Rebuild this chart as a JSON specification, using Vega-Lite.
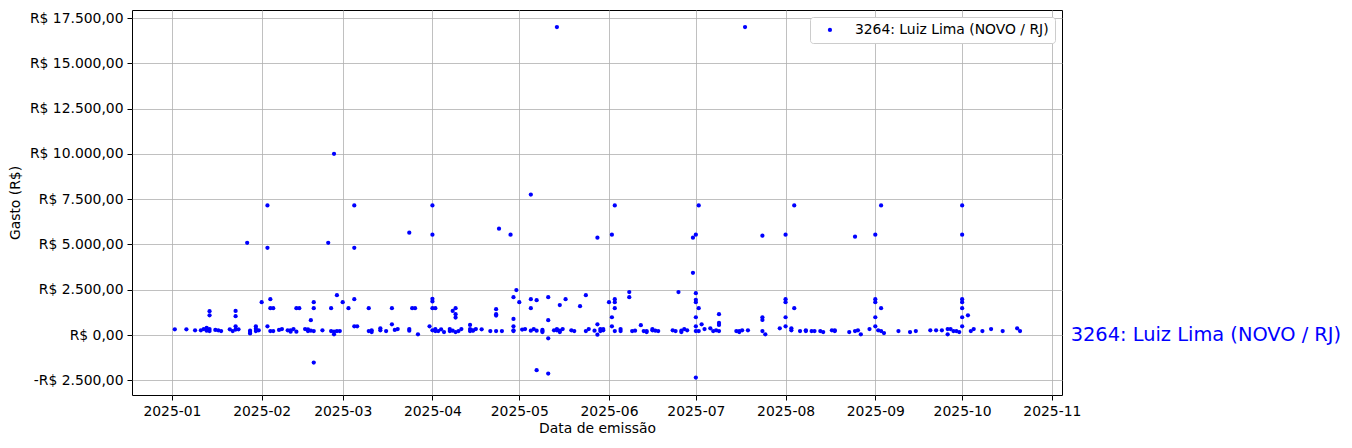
{
  "$schema": "https://vega.github.io/schema/vega-lite/v6.json",
  "width": 930,
  "height": 385,
  "autosize": {"type": "none"},
  "padding": {"left": 132, "top": 10, "right": 290, "bottom": 53},
  "background": "white",
  "data": {"values": [
    {"data":"2025-01-02","gasto":315},{"data":"2025-01-06","gasto":315},{"data":"2025-01-09","gasto":260},{"data":"2025-01-11","gasto":260},
    {"data":"2025-01-12","gasto":330},{"data":"2025-01-13","gasto":400},{"data":"2025-01-13","gasto":240},{"data":"2025-01-14","gasto":330},
    {"data":"2025-01-14","gasto":220},{"data":"2025-01-14","gasto":1315},{"data":"2025-01-14","gasto":1090},{"data":"2025-01-16","gasto":280},
    {"data":"2025-01-17","gasto":260},{"data":"2025-01-18","gasto":220},{"data":"2025-01-21","gasto":315},{"data":"2025-01-22","gasto":220},
    {"data":"2025-01-23","gasto":1330},{"data":"2025-01-23","gasto":1040},{"data":"2025-01-23","gasto":480},{"data":"2025-01-23","gasto":300},
    {"data":"2025-01-24","gasto":315},{"data":"2025-01-27","gasto":5090},{"data":"2025-01-28","gasto":165},{"data":"2025-01-28","gasto":90},
    {"data":"2025-01-28","gasto":240},{"data":"2025-01-30","gasto":480},{"data":"2025-01-30","gasto":350},{"data":"2025-01-30","gasto":220},
    {"data":"2025-01-31","gasto":260},
    {"data":"2025-02-01","gasto":1815},{"data":"2025-02-03","gasto":7150},{"data":"2025-02-03","gasto":4815},{"data":"2025-02-03","gasto":480},
    {"data":"2025-02-04","gasto":1980},{"data":"2025-02-04","gasto":1480},{"data":"2025-02-05","gasto":1480},{"data":"2025-02-04","gasto":220},
    {"data":"2025-02-05","gasto":220},{"data":"2025-02-07","gasto":280},{"data":"2025-02-08","gasto":330},{"data":"2025-02-10","gasto":260},
    {"data":"2025-02-11","gasto":185},{"data":"2025-02-11","gasto":260},{"data":"2025-02-12","gasto":330},{"data":"2025-02-13","gasto":185},
    {"data":"2025-02-13","gasto":1480},{"data":"2025-02-14","gasto":1480},{"data":"2025-02-16","gasto":330},{"data":"2025-02-17","gasto":315},
    {"data":"2025-02-17","gasto":220},{"data":"2025-02-18","gasto":240},{"data":"2025-02-19","gasto":220},{"data":"2025-02-18","gasto":815},
    {"data":"2025-02-19","gasto":1815},{"data":"2025-02-19","gasto":1480},{"data":"2025-02-19","gasto":-1520},{"data":"2025-02-22","gasto":260},
    {"data":"2025-02-24","gasto":5090},{"data":"2025-02-25","gasto":1480},{"data":"2025-02-25","gasto":220},{"data":"2025-02-26","gasto":40},
    {"data":"2025-02-26","gasto":185},{"data":"2025-02-27","gasto":220},{"data":"2025-02-28","gasto":220},{"data":"2025-02-27","gasto":2200},
    {"data":"2025-02-26","gasto":10000},
    {"data":"2025-03-01","gasto":1815},{"data":"2025-03-03","gasto":1480},{"data":"2025-03-05","gasto":7150},{"data":"2025-03-05","gasto":4815},
    {"data":"2025-03-05","gasto":1980},{"data":"2025-03-05","gasto":480},{"data":"2025-03-06","gasto":480},{"data":"2025-03-10","gasto":220},
    {"data":"2025-03-11","gasto":260},{"data":"2025-03-11","gasto":165},{"data":"2025-03-10","gasto":1480},{"data":"2025-03-14","gasto":370},
    {"data":"2025-03-14","gasto":260},{"data":"2025-03-16","gasto":220},{"data":"2025-03-18","gasto":1480},{"data":"2025-03-18","gasto":590},
    {"data":"2025-03-19","gasto":280},{"data":"2025-03-20","gasto":330},{"data":"2025-03-24","gasto":5650},{"data":"2025-03-24","gasto":330},
    {"data":"2025-03-24","gasto":240},{"data":"2025-03-25","gasto":1480},{"data":"2025-03-26","gasto":1480},{"data":"2025-03-27","gasto":40},
    {"data":"2025-03-31","gasto":480},
    {"data":"2025-04-01","gasto":7150},{"data":"2025-04-01","gasto":5540},{"data":"2025-04-01","gasto":2000},{"data":"2025-04-01","gasto":1850},
    {"data":"2025-04-01","gasto":1480},{"data":"2025-04-02","gasto":1480},{"data":"2025-04-01","gasto":260},{"data":"2025-04-02","gasto":330},
    {"data":"2025-04-02","gasto":220},{"data":"2025-04-03","gasto":220},{"data":"2025-04-04","gasto":315},{"data":"2025-04-05","gasto":165},
    {"data":"2025-04-07","gasto":330},{"data":"2025-04-07","gasto":220},{"data":"2025-04-08","gasto":240},{"data":"2025-04-09","gasto":165},
    {"data":"2025-04-10","gasto":220},{"data":"2025-04-11","gasto":330},{"data":"2025-04-08","gasto":1330},{"data":"2025-04-09","gasto":1480},
    {"data":"2025-04-09","gasto":1150},{"data":"2025-04-09","gasto":960},{"data":"2025-04-14","gasto":555},{"data":"2025-04-14","gasto":330},
    {"data":"2025-04-14","gasto":220},{"data":"2025-04-15","gasto":240},{"data":"2025-04-15","gasto":260},{"data":"2025-04-16","gasto":330},
    {"data":"2025-04-18","gasto":315},{"data":"2025-04-21","gasto":220},{"data":"2025-04-23","gasto":220},{"data":"2025-04-25","gasto":220},
    {"data":"2025-04-23","gasto":1425},{"data":"2025-04-23","gasto":1150},{"data":"2025-04-23","gasto":1075},{"data":"2025-04-24","gasto":5870},
    {"data":"2025-04-28","gasto":5540},{"data":"2025-04-29","gasto":2090},{"data":"2025-04-29","gasto":260},{"data":"2025-04-29","gasto":220},
    {"data":"2025-04-29","gasto":480},{"data":"2025-04-29","gasto":890},{"data":"2025-04-30","gasto":2480},
    {"data":"2025-05-01","gasto":1815},{"data":"2025-05-02","gasto":300},{"data":"2025-05-03","gasto":330},{"data":"2025-05-05","gasto":240},
    {"data":"2025-05-05","gasto":1980},{"data":"2025-05-05","gasto":1480},{"data":"2025-05-05","gasto":7750},{"data":"2025-05-06","gasto":330},
    {"data":"2025-05-07","gasto":240},{"data":"2025-05-09","gasto":280},{"data":"2025-05-09","gasto":165},{"data":"2025-05-09","gasto":220},
    {"data":"2025-05-07","gasto":1925},{"data":"2025-05-07","gasto":-1945},{"data":"2025-05-11","gasto":-2130},{"data":"2025-05-11","gasto":2090},
    {"data":"2025-05-11","gasto":815},{"data":"2025-05-11","gasto":-185},{"data":"2025-05-13","gasto":260},{"data":"2025-05-14","gasto":260},
    {"data":"2025-05-14","gasto":330},{"data":"2025-05-15","gasto":165},{"data":"2025-05-15","gasto":240},{"data":"2025-05-16","gasto":330},
    {"data":"2025-05-15","gasto":1650},{"data":"2025-05-17","gasto":1980},{"data":"2025-05-19","gasto":260},{"data":"2025-05-20","gasto":220},
    {"data":"2025-05-22","gasto":1590},{"data":"2025-05-24","gasto":220},{"data":"2025-05-25","gasto":330},{"data":"2025-05-24","gasto":2200},
    {"data":"2025-05-27","gasto":240},{"data":"2025-05-28","gasto":590},{"data":"2025-05-28","gasto":20},{"data":"2025-05-29","gasto":330},
    {"data":"2025-05-29","gasto":220},{"data":"2025-05-30","gasto":260},{"data":"2025-05-30","gasto":330},{"data":"2025-05-28","gasto":5370},
    {"data":"2025-05-14","gasto":17000},
    {"data":"2025-06-01","gasto":1815},{"data":"2025-06-02","gasto":5540},{"data":"2025-06-02","gasto":980},{"data":"2025-06-02","gasto":480},
    {"data":"2025-06-03","gasto":1815},{"data":"2025-06-03","gasto":1980},{"data":"2025-06-03","gasto":1480},{"data":"2025-06-03","gasto":7150},
    {"data":"2025-06-03","gasto":220},{"data":"2025-06-05","gasto":330},{"data":"2025-06-05","gasto":220},{"data":"2025-06-08","gasto":2370},
    {"data":"2025-06-08","gasto":2090},{"data":"2025-06-09","gasto":220},{"data":"2025-06-10","gasto":240},{"data":"2025-06-12","gasto":540},
    {"data":"2025-06-13","gasto":220},{"data":"2025-06-14","gasto":220},{"data":"2025-06-14","gasto":165},{"data":"2025-06-16","gasto":330},
    {"data":"2025-06-16","gasto":260},{"data":"2025-06-17","gasto":240},{"data":"2025-06-18","gasto":220},{"data":"2025-06-23","gasto":260},
    {"data":"2025-06-24","gasto":220},{"data":"2025-06-26","gasto":165},{"data":"2025-06-26","gasto":240},{"data":"2025-06-27","gasto":330},
    {"data":"2025-06-28","gasto":260},{"data":"2025-06-25","gasto":2370},{"data":"2025-06-30","gasto":5370},{"data":"2025-06-30","gasto":3430},
    {"data":"2025-07-01","gasto":5540},{"data":"2025-07-01","gasto":2310},{"data":"2025-07-01","gasto":1945},{"data":"2025-07-01","gasto":1815},
    {"data":"2025-07-01","gasto":980},{"data":"2025-07-01","gasto":480},{"data":"2025-07-01","gasto":220},{"data":"2025-07-01","gasto":-2350},
    {"data":"2025-07-02","gasto":7150},{"data":"2025-07-02","gasto":1480},{"data":"2025-07-02","gasto":220},{"data":"2025-07-03","gasto":590},
    {"data":"2025-07-04","gasto":330},{"data":"2025-07-06","gasto":370},{"data":"2025-07-07","gasto":220},{"data":"2025-07-08","gasto":260},
    {"data":"2025-07-09","gasto":220},{"data":"2025-07-09","gasto":1150},{"data":"2025-07-09","gasto":665},{"data":"2025-07-09","gasto":555},
    {"data":"2025-07-15","gasto":220},{"data":"2025-07-16","gasto":165},{"data":"2025-07-16","gasto":220},{"data":"2025-07-17","gasto":260},
    {"data":"2025-07-19","gasto":260},{"data":"2025-07-18","gasto":17000},{"data":"2025-07-24","gasto":5480},{"data":"2025-07-24","gasto":980},
    {"data":"2025-07-24","gasto":830},{"data":"2025-07-24","gasto":220},{"data":"2025-07-25","gasto":40},{"data":"2025-07-30","gasto":370},
    {"data":"2025-08-01","gasto":5540},{"data":"2025-08-01","gasto":1980},{"data":"2025-08-01","gasto":1815},{"data":"2025-08-01","gasto":980},
    {"data":"2025-08-01","gasto":480},{"data":"2025-08-03","gasto":370},{"data":"2025-08-03","gasto":260},{"data":"2025-08-04","gasto":7150},
    {"data":"2025-08-04","gasto":1480},{"data":"2025-08-06","gasto":220},{"data":"2025-08-08","gasto":260},{"data":"2025-08-08","gasto":220},
    {"data":"2025-08-10","gasto":220},{"data":"2025-08-11","gasto":220},{"data":"2025-08-13","gasto":220},{"data":"2025-08-14","gasto":165},
    {"data":"2025-08-17","gasto":260},{"data":"2025-08-18","gasto":260},{"data":"2025-08-18","gasto":220},{"data":"2025-08-23","gasto":165},
    {"data":"2025-08-25","gasto":5430},{"data":"2025-08-25","gasto":220},{"data":"2025-08-26","gasto":260},{"data":"2025-08-27","gasto":40},
    {"data":"2025-08-30","gasto":330},
    {"data":"2025-09-01","gasto":5540},{"data":"2025-09-01","gasto":1980},{"data":"2025-09-01","gasto":1815},{"data":"2025-09-01","gasto":980},
    {"data":"2025-09-01","gasto":480},{"data":"2025-09-02","gasto":260},{"data":"2025-09-03","gasto":220},{"data":"2025-09-04","gasto":110},
    {"data":"2025-09-03","gasto":7150},{"data":"2025-09-03","gasto":1480},{"data":"2025-09-09","gasto":220},{"data":"2025-09-13","gasto":165},
    {"data":"2025-09-15","gasto":220},{"data":"2025-09-20","gasto":260},{"data":"2025-09-22","gasto":260},{"data":"2025-09-24","gasto":260},
    {"data":"2025-09-26","gasto":330},{"data":"2025-09-27","gasto":330},{"data":"2025-09-26","gasto":40},{"data":"2025-09-28","gasto":220},
    {"data":"2025-09-29","gasto":220},{"data":"2025-09-30","gasto":165},
    {"data":"2025-10-01","gasto":7150},{"data":"2025-10-01","gasto":5540},{"data":"2025-10-01","gasto":1980},{"data":"2025-10-01","gasto":1815},
    {"data":"2025-10-01","gasto":1480},{"data":"2025-10-01","gasto":980},{"data":"2025-10-01","gasto":480},{"data":"2025-10-03","gasto":1090},
    {"data":"2025-10-04","gasto":220},{"data":"2025-10-05","gasto":330},{"data":"2025-10-08","gasto":220},{"data":"2025-10-11","gasto":330},
    {"data":"2025-10-15","gasto":220},{"data":"2025-10-20","gasto":370},{"data":"2025-10-21","gasto":220}
  ]},
  "layer": [
    {
      "mark": {"type": "circle", "size": 18, "opacity": 1},
      "encoding": {
        "x": {
          "field": "data", "type": "temporal",
          "scale": {"type": "utc", "domain": [{"year": 2024, "month": 12, "date": 18, "hours": 5, "utc": true}, {"year": 2025, "month": 11, "date": 4, "hours": 12, "utc": true}]},
          "axis": {
            "title": "Data de emissão", "titlePadding": 4,
            "labelExpr": "utcFormat(datum.value, '%Y-%m')",
            "values": [
              {"year": 2025, "month": 1, "date": 1, "utc": true},{"year": 2025, "month": 2, "date": 1, "utc": true},
              {"year": 2025, "month": 3, "date": 1, "utc": true},{"year": 2025, "month": 4, "date": 1, "utc": true},
              {"year": 2025, "month": 5, "date": 1, "utc": true},{"year": 2025, "month": 6, "date": 1, "utc": true},
              {"year": 2025, "month": 7, "date": 1, "utc": true},{"year": 2025, "month": 8, "date": 1, "utc": true},
              {"year": 2025, "month": 9, "date": 1, "utc": true},{"year": 2025, "month": 10, "date": 1, "utc": true},
              {"year": 2025, "month": 11, "date": 1, "utc": true}
            ]
          }
        },
        "y": {
          "field": "gasto", "type": "quantitative",
          "scale": {"domain": [-3312, 17942], "nice": false, "zero": false},
          "axis": {
            "title": "Gasto (R$)", "titlePadding": 7,
            "values": [-2500, 0, 2500, 5000, 7500, 10000, 12500, 15000, 17500],
            "labelExpr": "(datum.value < 0 ? '-R$ ' : 'R$ ') + replace(replace(replace(format(abs(datum.value), ',.2f'), ',', '_'), '.', ','), '_', '.')"
          }
        },
        "color": {"datum": "3264: Luiz Lima (NOVO / RJ)", "type": "nominal", "scale": {"range": ["#0000ff"]},
          "legend": {"title": null, "orient": "top-right", "offset": 7, "padding": 6, "fillColor": "white", "strokeColor": "#cccccc", "cornerRadius": 3,
            "symbolType": "circle", "symbolSize": 18, "symbolOffset": 7, "labelOffset": 18, "labelFontSize": 13.9, "labelColor": "black", "labelFont": "DejaVu Sans", "labelLimit": 400}}
      }
    },
    {
      "data": {"values": [{}]},
      "mark": {"type": "text", "align": "left", "baseline": "middle", "fontSize": 19.4, "color": "#0000ff", "font": "DejaVu Sans"},
      "encoding": {
        "x": {"datum": {"year": 2025, "month": 11, "date": 7, "hours": 12, "utc": true}, "type": "temporal"},
        "y": {"datum": 0, "type": "quantitative"},
        "text": {"value": "3264: Luiz Lima (NOVO / RJ)"}
      }
    }
  ],
  "config": {
    "font": "DejaVu Sans",
    "view": {"stroke": "black", "strokeWidth": 1},
    "axis": {
      "grid": true, "gridColor": "#b0b0b0", "gridWidth": 0.8, "domain": false,
      "tickColor": "black", "tickSize": 5, "tickWidth": 1, "labelPadding": 4,
      "labelFontSize": 13.9, "labelColor": "black", "labelFont": "DejaVu Sans",
      "titleFontSize": 13.9, "titleFontWeight": "normal", "titleColor": "black", "titleFont": "DejaVu Sans"
    }
  }
}
